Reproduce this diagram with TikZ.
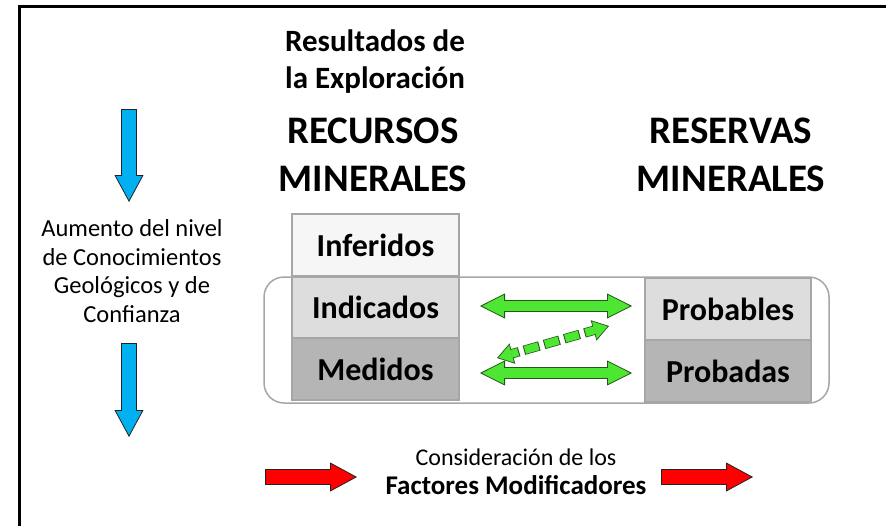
\documentclass[tikz,border=0pt]{standalone}
\usepackage{fontspec}
\setmainfont{Carlito}
\usetikzlibrary{positioning,arrows.meta,calc}

\definecolor{azul}{RGB}{0,176,240}
\definecolor{rojo}{RGB}{255,0,0}
\definecolor{verde}{RGB}{77,230,51}
\definecolor{verdeosc}{RGB}{38,84,28}
\definecolor{oscuro}{RGB}{35,35,35}
\definecolor{borde}{RGB}{166,166,166}
\definecolor{gris1}{RGB}{246,246,246}
\definecolor{gris2}{RGB}{221,221,221}
\definecolor{gris3}{RGB}{181,181,181}

\tikzstyle{caja} = [rectangle, draw=borde, line width=1.5pt, outer sep=0pt, minimum width=167pt, minimum height=62pt, text centered, font=\fontsize{32}{38}\selectfont\bfseries]
\tikzstyle{titulo} = [align=center, font=\fontsize{39}{48}\selectfont\bfseries]
\tikzstyle{subtitulo} = [align=center, font=\fontsize{31}{37}\selectfont\bfseries]
\tikzstyle{texto} = [align=center, font=\fontsize{24.5}{28.5}\selectfont]
\tikzstyle{flechaverde} = [draw=verdeosc, line width=0.8pt, {Triangle[length=25pt,width=25pt,fill=verde]}-{Triangle[length=25pt,width=25pt,fill=verde]}, postaction={draw=verdeosc, line width=11.6pt, -, shorten <=24.5pt, shorten >=24.5pt}, postaction={draw=verde, line width=10pt, -, shorten <=24pt, shorten >=24pt}]
\tikzstyle{flechapunteada} = [draw=verdeosc, line width=0.7pt, dash pattern=on 0pt off 300pt, {Triangle[length=16pt,width=21pt,fill=verde]}-{Triangle[length=16pt,width=21pt,fill=verde]}, postaction={draw=verdeosc, line width=9.4pt, -, shorten <=15.5pt, shorten >=15.5pt, dash pattern=on 16pt off 5pt, dash phase=8.5pt}, postaction={draw=verde, line width=8pt, -, shorten <=15pt, shorten >=15pt, dash pattern=on 14pt off 7pt, dash phase=7pt}]
\tikzstyle{flechaazul} = [draw=oscuro, line width=0.8pt, -{Triangle[length=27pt,width=29pt,fill=azul]}, postaction={draw=oscuro, line width=15.6pt, -, shorten >=26.5pt}, postaction={draw=azul, line width=14pt, -, shorten <=0.8pt, shorten >=26pt}]
\tikzstyle{flecharoja} = [draw=oscuro, line width=0.8pt, -{Triangle[length=27pt,width=29pt,fill=rojo]}, postaction={draw=oscuro, line width=15.6pt, -, shorten >=26.5pt}, postaction={draw=rojo, line width=14pt, -, shorten <=0.8pt, shorten >=26pt}]

\begin{document}
\begin{tikzpicture}[x=1pt, y=-1pt, node distance=0pt]
\useasboundingbox (0,0) rectangle (886,525);
\draw[line width=3pt] (19,540) |- (900,6);

% titulos
\node (resultados) [subtitulo] at (375,62) {Resultados de\\la Exploración};
\node (recursos) [titulo] at (373,155) {RECURSOS\\MINERALES};
\node (reservas) [titulo] at (731,155) {RESERVAS\\MINERALES};

% conocimiento geologico
\node (aumento) [texto] at (132,271) {Aumento del nivel\\de Conocimientos\\Geológicos y de\\Confianza};
\coordinate (az1) at (129,109);
\coordinate (az2) at (129,202);
\coordinate (az3) at (129,343);
\coordinate (az4) at (129,437);
\draw [flechaazul] (az1) -- (az2);
\draw [flechaazul] (az3) -- (az4);

% recursos y reservas
\node (inf) [caja, fill=gris1] at (375.5,245) {Inferidos};
\node (ind) [caja, fill=gris2, below=of inf] {Indicados};
\node (med) [caja, fill=gris3, below=of ind] {Medidos};
\node (prob) [caja, fill=gris2, minimum width=166pt] at (728,309) {Probables};
\node (proba) [caja, fill=gris3, minimum width=166pt, below=of prob] {Probadas};
\draw [draw=borde, line width=1.5pt, rounded corners=20pt] ($(ind.north west)+(-28,1)$) rectangle ($(proba.south east)+(18,1)$);

\coordinate (v1) at ($(ind.east)+(21,-1)$);
\coordinate (v2) at ($(prob.west |- ind.east)+(-13,-1)$);
\coordinate (v3) at ($(med.east)+(21,4)$);
\coordinate (v4) at ($(prob.west |- med.east)+(-13,4)$);
\draw [flechaverde] (v1) -- (v2);
\draw [flechaverde] (v3) -- (v4);
\coordinate (d1) at (497,358);
\coordinate (d2) at (609,326);
\draw [flechapunteada] (d1) -- (d2);

% factores modificadores
\node (factores) [texto] at (516,472) {{\fontsize{24}{30}\selectfont Consideración de los}\\{\fontsize{27}{30}\selectfont\bfseries Factores Modificadores}};
\coordinate (r1) at (265,477);
\coordinate (r2) at (357,477);
\coordinate (r3) at (661,477);
\coordinate (r4) at (753,477);
\draw [flecharoja] (r1) -- (r2);
\draw [flecharoja] (r3) -- (r4);
\end{tikzpicture}
\end{document}
